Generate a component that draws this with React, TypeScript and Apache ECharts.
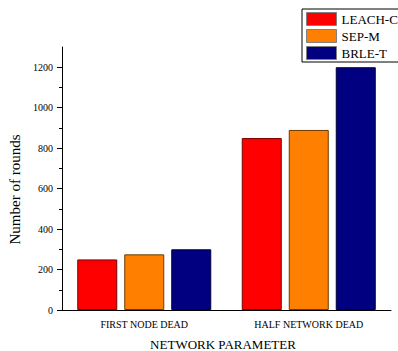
import React, { useEffect, useRef } from "react";
import * as echarts from "echarts";

const categories = ["FIRST NODE DEAD", "HALF NETWORK DEAD"];
const leachC = [250, 850];
const sepM = [275, 890];
const brleT = [300, 1200];
const majorTicks = [0, 200, 400, 600, 800, 1000, 1200];
const minorTicks = [100, 300, 500, 700, 900, 1100];

const FONT = "'Liberation Serif', 'Times New Roman', serif";

export default function App() {
  const ref = useRef<HTMLDivElement>(null);

  useEffect(() => {
    if (!ref.current) return;
    const chart = echarts.init(ref.current, null, { renderer: "svg" });

    const bar = (name: string, data: number[], color: string, border: string) => ({
      name,
      type: "bar",
      data,
      xAxisIndex: 0,
      yAxisIndex: 0,
      barWidth: 40,
      barGap: "17.5%",
      itemStyle: { color, borderColor: border, borderWidth: 1 },
    });

    chart.setOption({
      animation: false,
      backgroundColor: "#ffffff",
      textStyle: { fontFamily: FONT, color: "#000" },
      grid: { left: 62, right: 7, top: 47, bottom: 41, outerBoundsMode: "none" },
      legend: {
        orient: "vertical",
        left: 302,
        top: 9,
        padding: [3, 1, 2, 4],
        itemWidth: 30,
        itemHeight: 13,
        itemGap: 3,
        icon: "rect",
        borderColor: "#000",
        borderWidth: 1,
        textStyle: { fontFamily: FONT, fontSize: 13, color: "#000", lineHeight: 13 },
        itemStyle: { borderColor: "#808080", borderWidth: 1 },
        data: ["LEACH-C", "SEP-M", "BRLE-T"],
      },
      xAxis: [
        {
          type: "category",
          data: categories,
          boundaryGap: true,
          name: "NETWORK PARAMETER",
          nameLocation: "middle",
          nameGap: 28,
          nameTextStyle: { fontFamily: FONT, fontSize: 13, color: "#000", padding: [0, 7, 0, 0] },
          axisLine: { lineStyle: { color: "#000", width: 1 } },
          axisTick: { alignWithLabel: true, length: 5, lineStyle: { color: "#000" } },
          axisLabel: { fontFamily: FONT, fontSize: 10, color: "#000", margin: 9 },
          splitLine: { show: false },
        },
        {
          type: "category",
          data: categories,
          boundaryGap: true,
          position: "bottom",
          axisLine: { show: false },
          axisTick: { inside: true, length: 3, lineStyle: { color: "#000" } },
          axisLabel: { show: false },
          splitLine: { show: false },
        },
      ],
      yAxis: [
        {
          type: "value",
          min: 0,
          max: 1300,
          interval: 100,
          name: "Number of rounds",
          nameLocation: "middle",
          nameGap: 36,
          nameTextStyle: { fontFamily: FONT, fontSize: 15, color: "#000", padding: [0, 22, 0, 0] },
          axisLine: { show: true, lineStyle: { color: "#000", width: 1 } },
          axisTick: { show: true, length: 5, customValues: majorTicks, lineStyle: { color: "#000" } },
          axisLabel: {
            fontFamily: FONT,
            fontSize: 10,
            color: "#000",
            margin: 9,
            customValues: majorTicks,
            formatter: (v: number) => String(v),
          },
          splitLine: { show: false },
        },
        {
          type: "value",
          min: 0,
          max: 1300,
          interval: 100,
          position: "left",
          axisLine: { show: false },
          axisTick: { show: true, length: 3, customValues: minorTicks, lineStyle: { color: "#000" } },
          axisLabel: { show: false },
          splitLine: { show: false },
        },
      ],
      series: [
        bar("LEACH-C", leachC, "#ff0000", "#7a0000"),
        bar("SEP-M", sepM, "#ff8000", "#6b3a00"),
        bar("BRLE-T", brleT, "#000080", "#000033"),
      ],
    });

    return () => chart.dispose();
  }, []);

  return (
    <div
      ref={ref}
      style={{ position: "fixed", left: 0, top: 0, width: 398, height: 351 }}
    />
  );
}
